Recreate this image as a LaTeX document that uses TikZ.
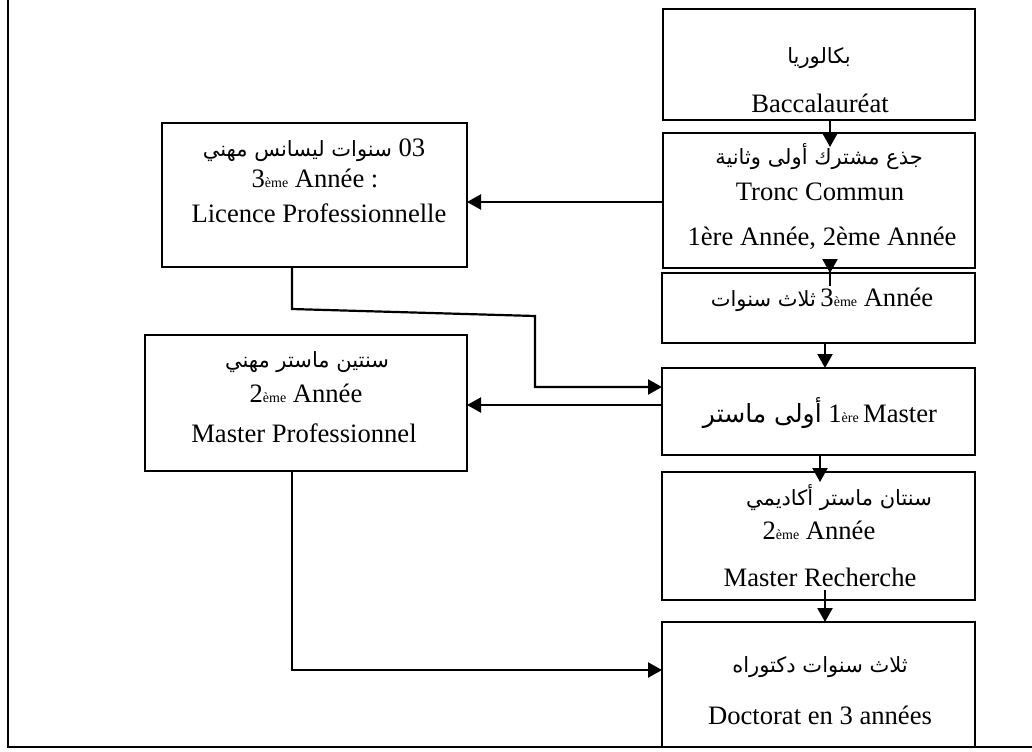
\documentclass[tikz,border=0pt]{standalone}
\usepackage{fontspec}
\setmainfont{Liberation Serif}
\newfontfamily\arabicfont[Script=Arabic]{DejaVu Sans}
\TeXXeTstate=1
\usetikzlibrary{arrows.meta,fit}
% small ordinal suffix set on the baseline (ème, ère)
\newcommand\ordsuffix[1]{{\fontsize{7pt}{8pt}\selectfont #1}}
% Arabic text, right to left
\newcommand\artext[1]{{\arabicfont\fontsize{10.5pt}{12pt}\selectfont\beginR #1\endR}}
\newcommand\artextbig[1]{{\arabicfont\fontsize{12.5pt}{14pt}\selectfont\beginR #1\endR}}
\begin{document}
\begin{tikzpicture}[x=0.5pt,y=-0.5pt,
  stage/.style={draw, line width=1pt, inner sep=0pt, outer sep=0pt, rectangle},
  txt/.style={inner sep=0pt, font=\fontsize{13.3pt}{16pt}\selectfont},
  flowarrow/.style={line width=1.1pt, -{Triangle[length=7pt,width=7.5pt]}},
  outline/.style={line width=0.8pt}]
\useasboundingbox (0,0) rectangle (1032,751);

% page frame (left and bottom rules)
\draw[outline] (8,0) -- (8,747) -- (1032,747);

% main academic track (right column)
\node[stage, fit={(663,9) (975,120)}] (bac) {};
\node[stage, fit={(663,133) (975,268)}] (tronc) {};
\node[stage, fit={(662,273) (975,343)}] (lic3) {};
\node[stage, fit={(662,368) (975,455)}] (m1) {};
\node[stage, fit={(662,472) (975,600)}] (mr) {};
\node[stage, fit={(662,622) (975,747)}] (doc) {};

% professional track (left column)
\node[stage, fit={(162,123) (467,267)}] (lp) {};
\node[stage, fit={(145,335) (467,471)}] (mp) {};

% box texts
\node[txt] (bacAr) at (819,58) {\artext{بكالوريا}};
\node[txt] (bacFr) at (820,103) {Baccalauréat};

\node[txt] (troncAr) at (819,157) {\artext{جذع مشترك أولى وثانية}};
\node[txt] (troncFr) at (820,192) {Tronc Commun};
\node[txt] (troncYr) at (822,238) {1ère Année, 2ème Année};

\node[txt] (lic3T) at (822,300) {\artext{ثلاث سنوات}\,3\ordsuffix{ème} Année};

\node[txt] (m1T) at (820,413) {\artextbig{أولى ماستر} 1\ordsuffix{ère}\,Master};

\node[txt] (mrAr) at (839,498) {\artext{سنتان ماستر أكاديمي}};
\node[txt] (mrYr) at (819,530) {2\ordsuffix{ème} Année};
\node[txt] (mrFr) at (820,577) {Master Recherche};

\node[txt] (docAr) at (820,667) {\artext{ثلاث سنوات دكتوراه}};
\node[txt] (docFr) at (820,715) {Doctorat en 3 années};

\node[txt] (lpAr) at (314,150) {\artext{\beginL{\fontsize{13.3pt}{16pt}\rmfamily 03}\endL\ سنوات ليسانس مهني}};
\node[txt] (lpYr) at (315,178) {3\ordsuffix{ème} Année :};
\node[txt] (lpFr) at (319,213) {Licence Professionnelle};

\node[txt] (mpAr) at (307,362) {\artext{سنتين ماستر مهني}};
\node[txt] (mpYr) at (306,393) {2\ordsuffix{ème} Année};
\node[txt] (mpFr) at (304,433) {Master Professionnel};

% vertical flow of the academic track
\draw[flowarrow, shorten >=-7pt] (830,0 |- bac.south) -- (830,0 |- tronc.north);
\draw[flowarrow, shorten <=-9pt] (830,0 |- tronc.south) -- (830,0 |- lic3.north);
\draw[flowarrow] (825,0 |- lic3.south) -- (825,0 |- m1.north);
\draw[flowarrow, shorten >=-5pt] (820,0 |- m1.south) -- (820,0 |- mr.north);
\draw[flowarrow, shorten <=-5pt] (825,0 |- mr.south) -- (825,0 |- doc.north);

% branches to and from the professional track
\draw[flowarrow] (tronc.west |- 0,202) -- (lp.east |- 0,202);
\draw[flowarrow] (292,0 |- lp.south) -- (292,309) -- (535,316) -- (535,387) -- (m1.west |- 0,387);
\draw[flowarrow] (m1.west |- 0,405) -- (mp.east |- 0,405);
\draw[flowarrow] (292,0 |- mp.south) -- (292,670) -- (doc.west |- 0,670);
\end{tikzpicture}
\end{document}
